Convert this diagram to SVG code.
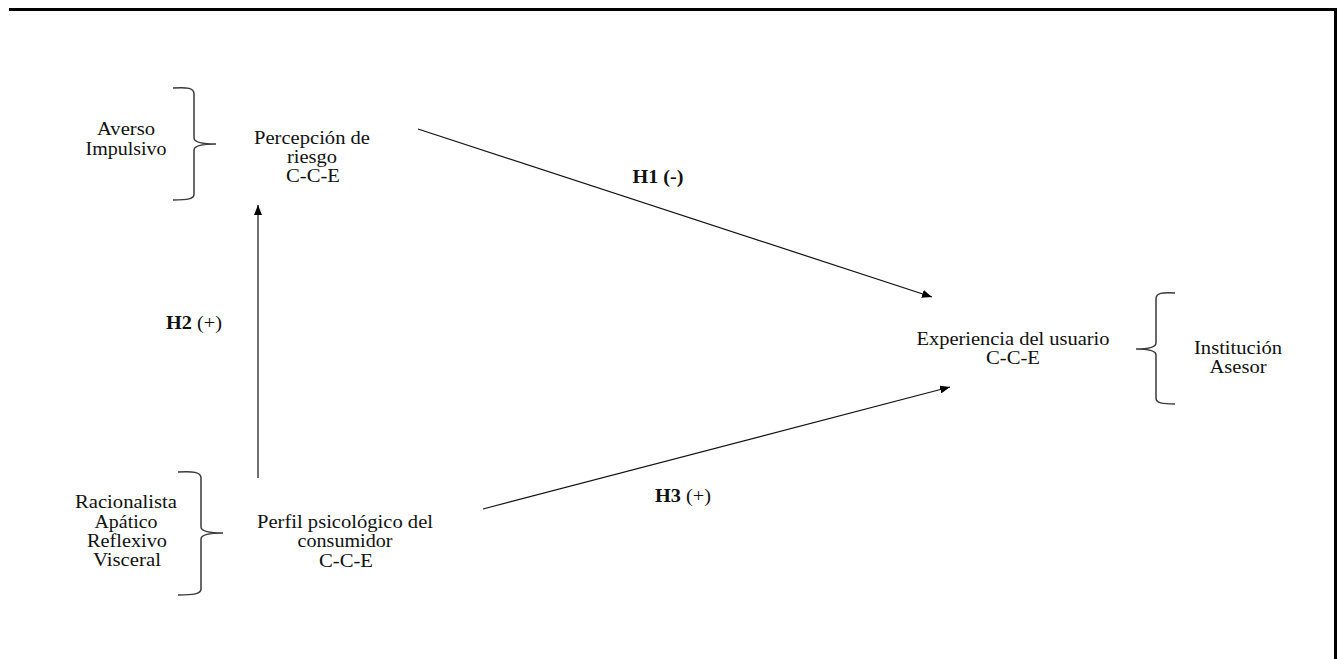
<svg xmlns="http://www.w3.org/2000/svg" width="1337" height="659" viewBox="0 0 1337 659">
<style>
.t{font-family:"Liberation Serif","Times New Roman",serif;font-size:19px;fill:#111;text-anchor:middle}
.b{font-weight:bold}
.br{fill:none;stroke:#3a3a3a;stroke-width:1.5}
.c{stroke:#111;stroke-width:1.2;fill:none}
</style>
<defs>
<marker id="ah" viewBox="0 0 10 8" refX="10" refY="4" markerWidth="10" markerHeight="8" markerUnits="userSpaceOnUse" orient="auto">
<path d="M0,0 L10,4 L0,8 z" fill="#000"/>
</marker>
</defs>
<rect width="1337" height="659" fill="#fff"/>
<g id="frame">
<line x1="9" y1="9.5" x2="1337" y2="9.5" stroke="#000" stroke-width="3"/>
<line x1="1335.5" y1="8" x2="1335.5" y2="659" stroke="#000" stroke-width="3"/>
</g>
<g id="connectors">
<line class="c" x1="418" y1="129" x2="932" y2="297" marker-end="url(#ah)"/>
<line class="c" x1="483" y1="509" x2="950" y2="387" marker-end="url(#ah)"/>
<line class="c" x1="258" y1="478" x2="258" y2="205" marker-end="url(#ah)"/>
<text class="t b" x="658" y="183" textLength="51" lengthAdjust="spacingAndGlyphs">H1 (-)</text>
<text class="t" x="194" y="329" textLength="56" lengthAdjust="spacingAndGlyphs"><tspan class="b">H2</tspan> (+)</text>
<text class="t" x="683" y="502" textLength="56" lengthAdjust="spacingAndGlyphs"><tspan class="b">H3</tspan> (+)</text>
</g>
<g id="risk-types">
<text class="t" x="126" y="135" textLength="58" lengthAdjust="spacingAndGlyphs">Averso</text>
<text class="t" x="126" y="155" textLength="81" lengthAdjust="spacingAndGlyphs">Impulsivo</text>
<path class="br" d="M173,88 C188,87 194,88 194,94 L194,138 C194,142 200,144 216,144 C200,144 194,146 194,150 L194,194 C194,199 188,200 173,200"/>
</g>
<g id="percepcion">
<text class="t" x="312" y="144" textLength="116" lengthAdjust="spacingAndGlyphs">Percepción de</text>
<text class="t" x="312" y="163" textLength="50" lengthAdjust="spacingAndGlyphs">riesgo</text>
<text class="t" x="313" y="182" textLength="54" lengthAdjust="spacingAndGlyphs">C-C-E</text>
</g>
<g id="profile-types">
<text class="t" x="126" y="508" textLength="102" lengthAdjust="spacingAndGlyphs">Racionalista</text>
<text class="t" x="126" y="528" textLength="63" lengthAdjust="spacingAndGlyphs">Apático</text>
<text class="t" x="127" y="547" textLength="80" lengthAdjust="spacingAndGlyphs">Reflexivo</text>
<text class="t" x="127" y="566" textLength="68" lengthAdjust="spacingAndGlyphs">Visceral</text>
<path class="br" d="M178,472 C193,471 201,472 201,478 L201,527 C201,531 207,533 223,533 C207,533 201,535 201,539 L201,589 C201,594 193,595 178,595"/>
</g>
<g id="perfil">
<text class="t" x="345" y="528" textLength="176" lengthAdjust="spacingAndGlyphs">Perfil psicológico del</text>
<text class="t" x="345" y="547" textLength="95" lengthAdjust="spacingAndGlyphs">consumidor</text>
<text class="t" x="346" y="567" textLength="54" lengthAdjust="spacingAndGlyphs">C-C-E</text>
</g>
<g id="experiencia">
<text class="t" x="1013" y="345" textLength="193" lengthAdjust="spacingAndGlyphs">Experiencia del usuario</text>
<text class="t" x="1013" y="364" textLength="54" lengthAdjust="spacingAndGlyphs">C-C-E</text>
</g>
<g id="experience-types">
<path class="br" d="M1175,293 C1162,292 1156,293 1156,299 L1156,343 C1156,347 1150,349 1136,349 C1150,349 1156,351 1156,355 L1156,398 C1156,403 1162,404 1175,404"/>
<text class="t" x="1238" y="354" textLength="88" lengthAdjust="spacingAndGlyphs">Institución</text>
<text class="t" x="1238" y="373" textLength="57" lengthAdjust="spacingAndGlyphs">Asesor</text>
</g>
</svg>
